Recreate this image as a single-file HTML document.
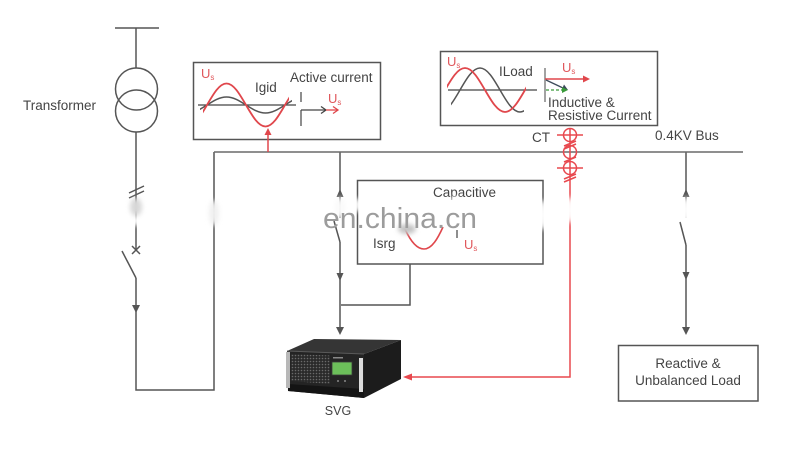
<!DOCTYPE html>
<html><head><meta charset="utf-8">
<style>
html,body{margin:0;padding:0;background:#fff;}
svg{display:block;}
text{font-family:"Liberation Sans",Arial,sans-serif;fill:#444;}
.t{font-size:13.5px;}
.r{fill:#e0585c;font-size:13px;}
</style></head><body>
<svg width="800" height="454" viewBox="0 0 800 454" xmlns="http://www.w3.org/2000/svg">
<defs>
<filter id="bl" x="-200%" y="-200%" width="500%" height="500%"><feGaussianBlur stdDeviation="2.5"/></filter>
<clipPath id="c1r"><rect x="203" y="60" width="86" height="80"/></clipPath>
<clipPath id="c1g"><rect x="200" y="60" width="92" height="80"/></clipPath>
<clipPath id="c2r"><rect x="447" y="50" width="79" height="75"/></clipPath>
<clipPath id="c2g"><rect x="451" y="50" width="73" height="75"/></clipPath>
<pattern id="mesh" width="3" height="3" patternUnits="userSpaceOnUse"><rect width="3" height="3" fill="#2a2a2a"/><circle cx="1.5" cy="1.5" r="0.8" fill="#6a6a6a"/></pattern>
</defs>

<!-- main dark lines -->
<g stroke="#555" stroke-width="1.5" fill="none">
  <line x1="115" y1="28" x2="159" y2="28"/>
  <line x1="136" y1="28" x2="136" y2="68"/>
  <circle cx="136.5" cy="89" r="21"/>
  <circle cx="136.5" cy="111" r="21"/>
  <line x1="136" y1="132" x2="136" y2="250"/>
  <line x1="129" y1="193" x2="144" y2="186"/>
  <line x1="129" y1="198" x2="144" y2="191"/>
  <line x1="132" y1="246" x2="140" y2="254"/>
  <line x1="140" y1="246" x2="132" y2="254"/>
  <line x1="122" y1="251" x2="136" y2="278"/>
  <polyline points="136,278 136,390 214,390 214,152"/>
  <line x1="340" y1="152" x2="340" y2="218"/>
  <line x1="334" y1="221" x2="340" y2="242"/>
  <line x1="340" y1="242" x2="340" y2="328"/>
  <rect x="357.5" y="180.5" width="185.5" height="83.5"/>
  <polyline points="410,264 410,305 341,305"/>
  <line x1="686" y1="152" x2="686" y2="218"/>
  <line x1="680" y1="222" x2="686" y2="245"/>
  <line x1="686" y1="245" x2="686" y2="330"/>
  <rect x="618.5" y="345.5" width="139.5" height="55.5"/>
  <rect x="193.5" y="62.5" width="187" height="77"/>
  <rect x="440.5" y="51.5" width="217" height="74"/>
</g>
<line x1="214" y1="152" x2="743" y2="152" stroke="#6a6a6a" stroke-width="1.5"/>

<g fill="#555">
  <polygon points="132,305 140,305 136,313"/>
  <polygon points="336.5,197 343.5,197 340,189"/>
  <polygon points="336.5,273 343.5,273 340,281"/>
  <polygon points="336,327 344,327 340,335"/>
  <polygon points="682.5,197 689.5,197 686,189"/>
  <polygon points="682.5,272 689.5,272 686,280"/>
  <polygon points="682,327 690,327 686,335"/>
</g>

<g stroke="#e8484e" stroke-width="1.5" fill="none">
  <polyline points="570,128 570,377 412,377"/>
  <circle cx="570" cy="135" r="6.5"/>
  <circle cx="570" cy="152" r="6.5"/>
  <circle cx="570" cy="168" r="6.5"/>
  <line x1="557" y1="135" x2="583" y2="135"/>
  <line x1="557" y1="168" x2="583" y2="168"/>
  <line x1="564" y1="146" x2="576" y2="141"/>
  <line x1="564" y1="149" x2="576" y2="144"/>
  <line x1="564" y1="162" x2="576" y2="157"/>
  <line x1="564" y1="179" x2="576" y2="174"/>
  <line x1="564" y1="182" x2="576" y2="177"/>
</g>
<polygon points="403,377 412,373.5 412,380.5" fill="#e8484e"/>

<!-- Box 1 -->
<line x1="198" y1="105" x2="296" y2="105" stroke="#444" stroke-width="1.3"/>
<path clip-path="url(#c1g)" d="M187.5 113 C194.6 113 200.6 109.1 207 105 C213.4 100.9 219.4 97 226.5 97 C233.6 97 239.6 100.9 246 105 C252.4 109.1 258.4 113 265.5 113 C272.6 113 278.6 109.1 285 105 C291.4 100.9 297.4 97 304.5 97" stroke="#555" stroke-width="1.5" fill="none"/>
<path clip-path="url(#c1r)" d="M187.5 126.5 C194.6 126.5 200.6 116 207 105 C213.4 94 219.4 83.5 226.5 83.5 C233.6 83.5 239.6 94 246 105 C252.4 116 258.4 126.5 265.5 126.5 C272.6 126.5 278.6 116 285 105 C291.4 94 297.4 83.5 304.5 83.5" stroke="#e0474c" stroke-width="1.8" fill="none"/>
<text class="r" x="201" y="78">U<tspan style="font-size:8px" dy="2">s</tspan></text>
<text class="t" x="255" y="92">Igid</text>
<text class="t" x="290" y="82">Active current</text>
<line x1="301" y1="92" x2="301" y2="102" stroke="#444" stroke-width="1.2"/>
<line x1="301" y1="110" x2="301" y2="126" stroke="#444" stroke-width="1.2"/>
<line x1="301" y1="110" x2="326" y2="110" stroke="#444" stroke-width="1.3"/>
<polyline points="321,106.5 326,110 321,113.5" stroke="#444" stroke-width="1.3" fill="none"/>
<line x1="326" y1="110" x2="338" y2="110" stroke="#e0474c" stroke-width="1.3"/>
<polyline points="333,106.5 338,110 333,113.5" stroke="#e0474c" stroke-width="1.3" fill="none"/>
<text class="r" x="328" y="103">U<tspan style="font-size:8px" dy="2">s</tspan></text>
<line x1="268" y1="152" x2="268" y2="133" stroke="#e0474c" stroke-width="1.5"/>
<polygon points="268,128 264.5,135 271.5,135" fill="#e0474c"/>

<!-- Box 2 -->
<line x1="448" y1="90" x2="537" y2="90" stroke="#444" stroke-width="1.3"/>
<path clip-path="url(#c2g)" d="M440 112 C447.2 112 453.5 101.3 460 90 C466.5 78.7 472.8 68 480 68 C487.2 68 493.5 78.7 500 90 C506.5 101.3 512.8 112 520 112 C527.2 112 533.5 101.3 540 90" stroke="#555" stroke-width="1.5" fill="none"/>
<path clip-path="url(#c2r)" d="M425 112 C432.2 112 438.5 101.3 445 90 C451.5 78.7 457.8 68 465 68 C472.2 68 478.5 78.7 485 90 C491.5 101.3 497.8 112 505 112 C512.2 112 518.5 101.3 525 90 C531.5 78.7 537.8 68 545 68" stroke="#e0474c" stroke-width="1.8" fill="none"/>
<text class="r" x="447" y="66">U<tspan style="font-size:8px" dy="2">s</tspan></text>
<text class="t" x="499" y="76">ILoad</text>
<line x1="545" y1="68" x2="545" y2="102" stroke="#555" stroke-width="1.1"/>
<line x1="545" y1="79" x2="585" y2="79" stroke="#e0474c" stroke-width="1.4"/>
<polygon points="590,79 583,75.5 583,82.5" fill="#e0474c"/>
<text class="r" x="562" y="72">U<tspan style="font-size:8px" dy="2">s</tspan></text>
<line x1="546" y1="80" x2="563" y2="88" stroke="#3c4a5a" stroke-width="1.3"/>
<polygon points="568,90 561.5,90.5 564,84.5" fill="#3c4a5a"/>
<line x1="546" y1="90" x2="563" y2="90" stroke="#3a9a3a" stroke-width="1.3" stroke-dasharray="3,2"/>
<polygon points="568,90 562,87 562,93" fill="#3a9a3a"/>
<text class="t" x="548" y="107">Inductive &amp;</text>
<text class="t" x="548" y="120">Resistive Current</text>

<text class="t" x="23" y="110">Transformer</text>
<text class="t" x="532" y="142">CT</text>
<text class="t" x="655" y="140">0.4KV Bus</text>
<text class="t" x="433" y="197">Capacitive</text>
<text class="t" x="373" y="248">Isrg</text>
<path d="M405 229 C410 240 416 249 424 249 C432 249 438 238 443 227" stroke="#e0474c" stroke-width="1.6" fill="none"/>
<line x1="457" y1="230" x2="457" y2="238" stroke="#444" stroke-width="1.2"/>
<text class="r" x="464" y="249">U<tspan style="font-size:8px" dy="2">s</tspan></text>
<text class="t" x="688" y="368" text-anchor="middle">Reactive &amp;</text>
<text class="t" x="688" y="385" text-anchor="middle">Unbalanced Load</text>
<text x="338" y="415" text-anchor="middle" style="font-size:12.5px">SVG</text>

<!-- SVG device -->
<g>
  <polygon points="287,351 314,339 401,340 364,354" fill="#353535"/>
  <polygon points="364,354 401,340 401,379 364,398" fill="#1c1c1c"/>
  <polygon points="287,351 364,354 364,398 288,391" fill="#242424"/>
  <polygon points="291,354 330,355.5 330,384 291,381" fill="url(#mesh)"/>
  <polygon points="288,384 364,389 364,398 288,391" fill="#141414"/>
  <line x1="287" y1="351" x2="364" y2="354" stroke="#5a5a5a" stroke-width="1"/>
  <rect x="286" y="352" width="4" height="36" fill="#b8b8b8"/>
  <rect x="359" y="358" width="4" height="34" fill="#dcdcdc"/>
  <rect x="332" y="362" width="20" height="13" fill="#6cbf5a" stroke="#3a3a3a" stroke-width="0.8"/>
  <rect x="333" y="357" width="10" height="1.5" fill="#888"/>
  <circle cx="338" cy="381" r="1" fill="#888"/>
  <circle cx="345" cy="381" r="1" fill="#888"/>
</g>

<!-- watermark smudges -->
<g filter="url(#bl)">
  <ellipse cx="136" cy="207" rx="6" ry="9" fill="#d8d8d8"/>
  <ellipse cx="136" cy="221" rx="5" ry="5" fill="#fff"/>
  <ellipse cx="214" cy="213" rx="5" ry="13" fill="#f0f0f0"/>
  <ellipse cx="340" cy="208" rx="5" ry="11" fill="#fafafa"/>
  <ellipse cx="358" cy="205" rx="4" ry="7" fill="#fff"/>
  <ellipse cx="455" cy="203" rx="5" ry="7" fill="#fff"/>
  <ellipse cx="543" cy="215" rx="5" ry="15" fill="#fff"/>
  <ellipse cx="570" cy="210" rx="5" ry="13" fill="#fff"/>
  <ellipse cx="686" cy="210" rx="5" ry="13" fill="#fff"/>
  <ellipse cx="407" cy="229" rx="9" ry="5" fill="#c4c4c4"/>
</g>
<text x="323" y="228" textLength="154" lengthAdjust="spacingAndGlyphs" style="font-size:29px;fill:#9c9c9c">en.china.cn</text>
</svg>
</body></html>
